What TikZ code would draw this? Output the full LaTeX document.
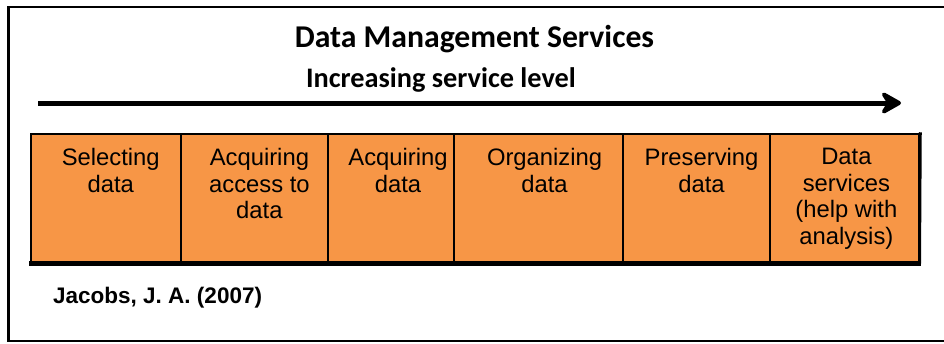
\documentclass[tikz,border=0pt]{standalone}
\usepackage{fontspec}
\setmainfont{Liberation Sans}
\newfontfamily\calibri{Carlito}
\usetikzlibrary{arrows.meta,calc}
\definecolor{cellorange}{HTML}{F79646}
\begin{document}
\begin{tikzpicture}[x=1pt,y=-1pt,
  cellbox/.style={draw=black,line width=1.5pt,fill=cellorange,inner sep=0pt,anchor=north west,minimum height=129pt},
  celltext/.style={anchor=north,align=center,inner sep=0pt,font=\fontsize{23.8}{26.7}\selectfont},
  titletext/.style={anchor=base,inner sep=0pt,font=\calibri\bfseries\fontsize{31.7}{36}\selectfont},
  subtext/.style={anchor=base,inner sep=0pt,font=\calibri\bfseries\fontsize{28.3}{32}\selectfont}]
\useasboundingbox (0,0) rectangle (944,343);
\fill[white] (0,0) rectangle (944,343);
% outer frame (open on the right)
\draw[line width=2pt] (944,7) -| (8,341) -- (944,341);
\draw[line width=3pt] (8,6) -- (8,342);

% headings
\node[titletext] (title) at (474.5,47) {Data Management Services};
\node[subtext] (sub) at (441,87) {Increasing service level};

% service-level arrow
\coordinate (astart) at (38,103);
\coordinate (aend) at (901,103);
\draw[line width=5pt,-{Stealth[length=25pt,width=28pt,inset=9pt,round]}] (astart) -- (aend);

% table cells
\node[cellbox,minimum width=150pt]   (c1) at (30,133)    {};
\node[cellbox,minimum width=147.3pt] (c2) at (180,133)   {};
\node[cellbox,minimum width=126pt]   (c3) at (327.3,133) {};
\node[cellbox,minimum width=169pt]   (c4) at (453.3,133) {};
\node[cellbox,minimum width=147pt]   (c5) at (622.3,133) {};
\node[cellbox,minimum width=148.7pt] (c6) at (769.3,133) {};
% heavier lower and right edges
\draw[line width=4.5pt] ($(c1.south west)+(-0.75,0)$) -- ($(c6.south east)+(1.5,0)$);
\draw[line width=3pt] ($(c6.north east)+(0.75,-0.75)$) -- (c6.south east);

\node[celltext] (t1) at ($(c1.north)+(5,15)$) {Selecting\\data};
\node[celltext] (t2) at ($(c2.north)+(5,15)$) {Acquiring\\access to\\data};
\node[celltext] (t3) at ($(c3.north)+(7,15)$) {Acquiring\\data};
\node[celltext] (t4) at ($(c4.north)+(6,15)$) {Organizing\\data};
\node[celltext] (t5) at ($(c5.north)+(5,15)$) {Preserving\\data};
\node[celltext] (t6) at ($(c6.north)+(2,15)$) {Data\\services\\(help with\\analysis)};

% citation
\node[anchor=base west,inner sep=0pt,font=\bfseries\fontsize{22.5}{26}\selectfont] (cite) at (53,303) {Jacobs, J. A. (2007)};
\end{tikzpicture}
\end{document}
